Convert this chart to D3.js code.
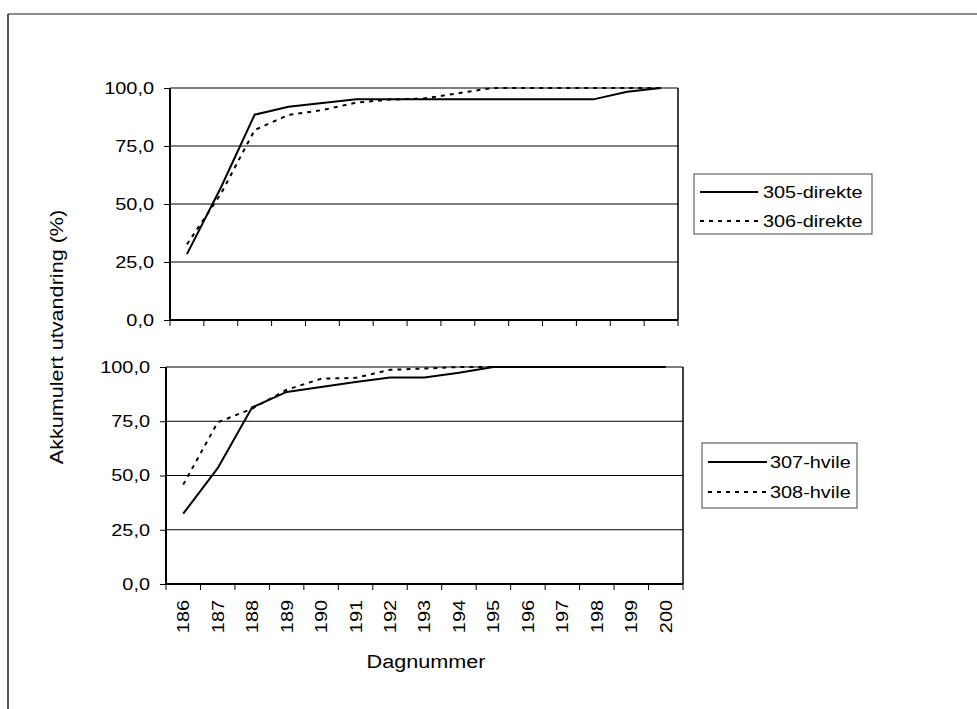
<!DOCTYPE html>
<html><head><meta charset="utf-8">
<script src="https://cdn.jsdelivr.net/npm/d3@7/dist/d3.min.js"></script>
<style>body{margin:0;background:#fff}svg{display:block;font-family:"Liberation Sans",Arial,sans-serif}</style>
</head><body><svg id="c" width="977" height="709"></svg>
<script>
const days = ["186","187","188","189","190","191","192","193","194","195","196","197","198","199","200"];
const yTicks = [0,25,50,75,100];
const s305 = [28.4,57.0,88.5,91.9,93.5,95.1,95.1,95.1,95.1,95.1,95.1,95.1,95.1,98.4,100];
const s306 = [32.6,54.3,81.9,88.4,90.5,93.7,95.0,95.5,97.7,100,100,100,100,100,100];
const s307 = [32.4,53.4,81.4,88.5,90.8,93.1,95.2,95.2,97.4,100,100,100,100,100,100];
const s308 = [45.8,74.5,80.8,89.5,94.6,95.0,98.7,99.3,100,100,100,100,100,100,100];
const panels = [
  {x0:170,x1:678,y0:88,y1:320,series:[{name:"305-direkte",v:s305,dash:null},{name:"306-direkte",v:s306,dash:"4,5"}],
   leg:{x:694,y:174,w:178,h:60,lx0:700,lx1:758,tx:763,rows:[192,221]}, xlabels:false},
  {x0:166,x1:683,y0:367,y1:584,series:[{name:"307-hvile",v:s307,dash:null},{name:"308-hvile",v:s308,dash:"4,5"}],
   leg:{x:702,y:443,w:155,h:65,lx0:708,lx1:767,tx:770,rows:[462,492]}, xlabels:true}
];
const FONT = "Liberation Sans, Arial, sans-serif";
const svg = d3.select("#c");
function stretch(sel, k){ sel.each(function(){ const w=this.getComputedTextLength(); this.setAttribute("textLength", w*k); this.setAttribute("lengthAdjust","spacingAndGlyphs"); }); }
svg.append("line").attr("x1",8).attr("x2",977).attr("y1",14).attr("y2",14).attr("stroke","#666").attr("stroke-width",1.5);
svg.append("line").attr("x1",8).attr("x2",8).attr("y1",14).attr("y2",709).attr("stroke","#222").attr("stroke-width",1.5);

const fmt = d => d3.format(".1f")(d).replace(".",",");
panels.forEach(p=>{
  const x = d3.scaleBand().domain(days).range([p.x0,p.x1]);
  const y = d3.scaleLinear().domain([0,100]).range([p.y1,p.y0]);
  const g = svg.append("g");
  g.selectAll(".grid").data(yTicks.filter(t=>t>0)).enter().append("line")
    .attr("x1",p.x0).attr("x2",p.x1).attr("y1",d=>y(d)).attr("y2",d=>y(d))
    .attr("stroke","#000").attr("stroke-width",1);
  g.append("line").attr("x1",p.x1).attr("x2",p.x1).attr("y1",p.y0).attr("y2",p.y1).attr("stroke","#000").attr("stroke-width",1.5);
  const ya = g.append("g").attr("transform",`translate(${p.x0},0)`)
    .call(d3.axisLeft(y).tickValues(yTicks).tickFormat(fmt).tickSize(6).tickPadding(10));
  ya.select(".domain").attr("stroke-width",2).attr("d",`M0,${p.y0}V${p.y1}`);
  ya.selectAll("text").attr("font-size",17).attr("fill","#000").attr("font-family",FONT);
  stretch(ya.selectAll("text"),1.17);
  const xa = g.append("g").attr("transform",`translate(0,${p.y1})`)
    .call(d3.axisBottom(x).tickSize(0).tickFormat(p.xlabels?(d=>d):(()=>"")));
  xa.select(".domain").attr("stroke-width",2).attr("d",`M${p.x0},0H${p.x1}`);
  const bounds = days.map((d,i)=>p.x0+i*x.step()).concat([p.x1]);
  g.selectAll(".xt").data(bounds).enter().append("line")
    .attr("x1",d=>d).attr("x2",d=>d).attr("y1",p.y1).attr("y2",p.y1+6).attr("stroke","#000");
  if(p.xlabels){
    xa.selectAll("text").attr("transform","rotate(-90)").attr("text-anchor","end")
      .attr("x",-16).attr("y",0).attr("dy","0.35em").attr("font-size",17).attr("fill","#000")
      .attr("font-family",FONT);
    stretch(xa.selectAll("text"),1.17);
  } else xa.selectAll("text").remove();
  const line = d3.line().x((d,i)=>x(days[i])+x.bandwidth()/2).y(d=>y(d));
  p.series.forEach(s=>{
    g.append("path").datum(s.v).attr("d",line).attr("fill","none").attr("stroke","#000")
      .attr("stroke-width",2).attr("stroke-dasharray",s.dash);
  });
  const L = p.leg;
  g.append("rect").attr("x",L.x).attr("y",L.y).attr("width",L.w).attr("height",L.h)
    .attr("fill","#fff").attr("stroke","#444").attr("stroke-width",1);
  p.series.forEach((s,i)=>{
    g.append("line").attr("x1",L.lx0).attr("x2",L.lx1).attr("y1",L.rows[i]).attr("y2",L.rows[i])
      .attr("stroke","#000").attr("stroke-width",2).attr("stroke-dasharray",s.dash);
    const t = g.append("text").attr("x",L.tx).attr("y",L.rows[i]).attr("dy","0.35em").attr("font-size",17).text(s.name);
    stretch(t,1.17);
  });
});
const yl = svg.append("text").attr("transform","translate(57,337) rotate(-90)").attr("text-anchor","middle")
  .attr("dy","0.35em").attr("font-size",18).text("Akkumulert utvandring (%)");
stretch(yl,1.2);
const xl = svg.append("text").attr("x",426).attr("y",662).attr("text-anchor","middle").attr("dy","0.35em")
  .attr("font-size",18).text("Dagnummer");
stretch(xl,1.2);
</script></body></html>
